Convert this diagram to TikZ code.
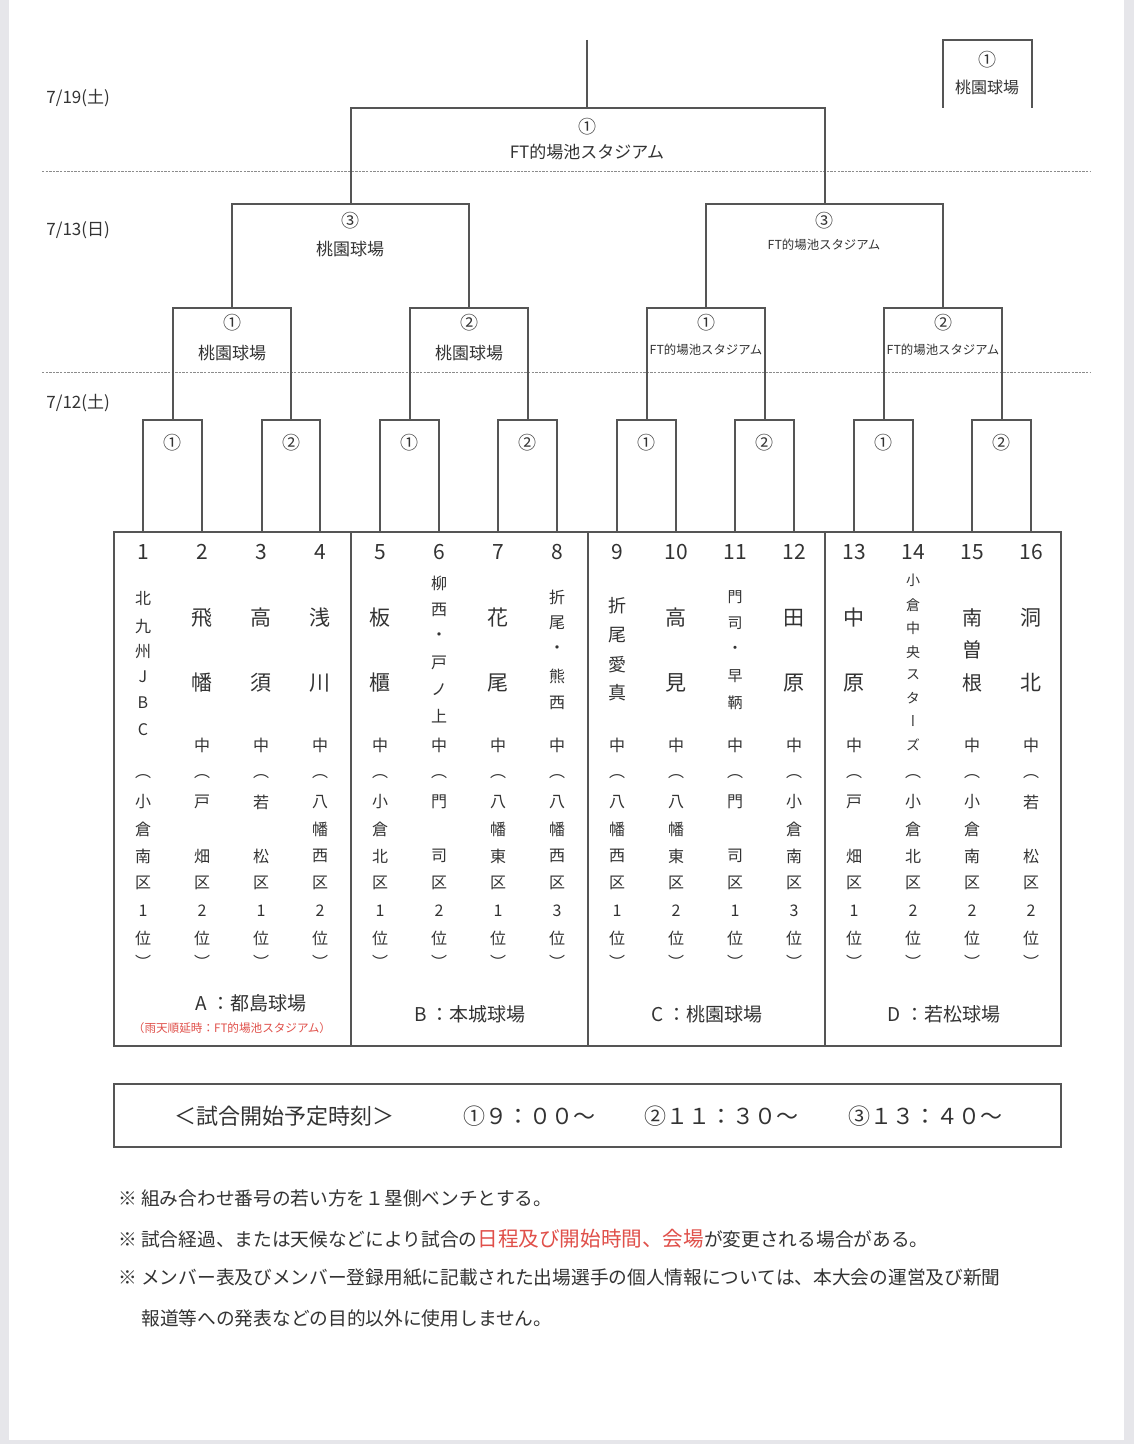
\documentclass[tikz,border=0pt]{standalone}
\usepackage{fontspec}
\setmainfont{Noto Sans CJK JP}
\newfontfamily\jpv[RawFeature=+vert]{Noto Sans CJK JP}
\newcommand\fsz[1]{\fontsize{#1}{#1}\selectfont}
\definecolor{ink}{HTML}{333333}
\definecolor{ln}{HTML}{555555}
\definecolor{dsh}{HTML}{8C8C8C}
\definecolor{rd}{HTML}{E0504A}
\definecolor{pg}{HTML}{E6E6EA}
\newcommand\upcol[3]{\foreach \ch/\yy [count=\k] in {#3} {\node[#2] (u#1-\k) at (#1,\yy) {\ch};}}
\newcommand\locol[5]{\foreach \ch/\yy [count=\k] in {︵/777,#2/802,#3/829,#4/856,区/883,#5/911,位/938,︶/962} {\node[lo] (l#1-\k) at (#1,\yy) {\ch};}}
\begin{document}
\begin{tikzpicture}[x=0.5pt,y=-0.5pt,
  br/.style={draw=ln,line width=0.75pt},
  dl/.style={draw=dsh,line width=0.5pt,dash pattern=on 1.2pt off 0.6pt},
  txt/.style={text=ink,inner sep=0pt},
  lbl/.style={txt,font=\fsz{8.5pt}},
  circ/.style={txt,font=\fsz{9pt}},
  sml/.style={txt,font=\fsz{6.2pt}},
  num/.style={txt,font=\fsz{10.5pt}},
  big/.style={txt,font=\fsz{10.5pt}},
  sm/.style={txt,font=\jpv\fsz{8pt}},
  md/.style={txt,font=\jpv\fsz{9pt}},
  xs/.style={txt,font=\jpv\fsz{7.5pt}},
  xxs/.style={txt,font=\jpv\fsz{7pt}},
  mb/.style={txt,font=\fsz{10pt}},
  lo/.style={txt,font=\fsz{8pt}},
  venue/.style={txt,font=\fsz{9.5pt}},
  tm/.style={txt,font=\fsz{11pt}},
  note/.style={txt,font=\fsz{9.35pt},anchor=west}]
\useasboundingbox (0,0) rectangle (1134,1444);
\fill[pg] (0,0) rectangle (1134,1444);
\fill[white] (9,0) rectangle (1124,1440);
% dashed date separators
\draw[dl] (42,172) coordinate (d1a) -- (1090,172) coordinate (d1b);
\draw[dl] (42,372) coordinate (d2a) -- (1090,372) coordinate (d2b);
% dates
\node[lbl,anchor=west] (date1) at (46,98) {7/19(土)};
\node[lbl,anchor=west] (date2) at (46,230) {7/13(日)};
\node[lbl,anchor=west] (date3) at (46,403) {7/12(土)};
% final
\draw[br] (587,40) -- (587,108);
\draw[br] (351,204) |- (825,108) -- (825,204);
\node[circ] (f1) at (587,127) {①};
\node[lbl] (f2) at (587,152) {FT的場池スタジアム};
% champion box
\draw[br] (943,108) |- (1032,40) -- (1032,108);
\node[circ] (w1) at (987,60) {①};
\node[txt,font=\fsz{8pt}] (w2) at (987,87) {桃園球場};
% semifinals
\draw[br] (232,308) |- (469,204) -- (469,308);
\draw[br] (706,308) |- (943,204) -- (943,308);
\node[circ] (s1) at (350,221) {③};
\node[lbl] (s1v) at (350,249) {桃園球場};
\node[circ] (s2) at (824,221) {③};
\node[sml] (s2v) at (824,245) {FT的場池スタジアム};
% quarterfinals
\foreach \a/\b in {173/291,410/528,647/765,884/1002}
  \draw[br] (\a,420) |- (\b,308) -- (\b,420);
\node[circ] (q1) at (232,323) {①};
\node[lbl] (q1v) at (232,353) {桃園球場};
\node[circ] (q2) at (469,323) {②};
\node[lbl] (q2v) at (469,353) {桃園球場};
\node[circ] (q3) at (706,323) {①};
\node[sml] (q3v) at (706,350) {FT的場池スタジアム};
\node[circ] (q4) at (943,323) {②};
\node[sml] (q4v) at (943,350) {FT的場池スタジアム};
% first round
\foreach \a/\b/\m [count=\i] in {143/202/①,262/320/②,380/439/①,498/557/②,617/676/①,735/794/②,854/913/①,972/1031/②}{
  \draw[br] (\a,532) |- (\b,420) -- (\b,532);
  \node[circ] (r\i) at ({(\a+\b)/2},443) {\m};
}
% main table
\draw[br] (114,532) rectangle (1061,1046);
\foreach \x in {351,588,825} \draw[br] (\x,532) -- (\x,1046);
% numbers
\foreach \x [count=\i] in {143,202,261,320,380,439,498,557,617,676,735,794,854,913,972,1031}
  \node[num] (n\i) at (\x,552) {\i};
% team names (upper)
\upcol{143}{sm}{北/598,九/627,州/652,J/677,B/703,C/730}
\upcol{202}{big}{飛/618,幡/683}
\upcol{261}{big}{高/618,須/683}
\upcol{320}{big}{浅/618,川/683}
\upcol{380}{big}{板/618,櫃/683}
\upcol{439}{sm}{柳/583,西/610,・/637,戸/663,ノ/690,上/716}
\upcol{498}{big}{花/618,尾/683}
\upcol{557}{sm}{折/597,尾/623,・/650,熊/676,西/703}
\upcol{617}{md}{折/606,尾/635,愛/665,真/693}
\upcol{676}{big}{高/618,見/683}
\upcol{735}{xs}{門/597,司/623,・/650,早/676,鞆/703}
\upcol{794}{big}{田/618,原/683}
\upcol{854}{big}{中/618,原/683}
\upcol{913}{xxs}{小/580,倉/605,中/628,央/652,ス/675,タ/698,ー/721,ズ/745}
\upcol{972}{mb}{南/618,曽/650,根/683}
\upcol{1031}{big}{洞/618,北/683}
\foreach \x [count=\i] in {202,261,320,380,439,498,557,617,676,735,794,854,972,1031}
  \node[lo] (c\i) at (\x,745) {中};
% lower (district rankings)
\locol{143}{小}{倉}{南}{1}
\locol{202}{戸}{}{畑}{2}
\locol{261}{若}{}{松}{1}
\locol{320}{八}{幡}{西}{2}
\locol{380}{小}{倉}{北}{1}
\locol{439}{門}{}{司}{2}
\locol{498}{八}{幡}{東}{1}
\locol{557}{八}{幡}{西}{3}
\locol{617}{八}{幡}{西}{1}
\locol{676}{八}{幡}{東}{2}
\locol{735}{門}{}{司}{1}
\locol{794}{小}{倉}{南}{3}
\locol{854}{戸}{}{畑}{1}
\locol{913}{小}{倉}{北}{2}
\locol{972}{小}{倉}{南}{2}
\locol{1031}{若}{}{松}{2}
% venues
\node[venue] (vA) at (251,1003) {A ：都島球場};
\node[txt,font=\fsz{5.8pt},text=rd] (vAr) at (232,1028) {（雨天順延時：FT的場池スタジアム）};
\node[venue] (vB) at (470,1014) {B ：本城球場};
\node[venue] (vC) at (707,1014) {C ：桃園球場};
\node[venue] (vD) at (944,1014) {D ：若松球場};
% time box
\draw[br] (114,1084) rectangle (1061,1147);
\node[tm] (t0) at (284,1116) {＜試合開始予定時刻＞};
\node[tm] (t1) at (529,1116) {①９：００～};
\node[tm] (t2) at (721,1116) {②１１：３０～};
\node[tm] (t3) at (925,1116) {③１３：４０～};
% notes
\node[note] (n1) at (118,1198) {※ 組み合わせ番号の若い方を１塁側ベンチとする。};
\node[note] (n2) at (118,1239) {※ 試合経過、または天候などにより試合の{\color{rd}\fsz{10.3pt}日程及び開始時間、会場}が変更される場合がある。};
\node[note] (n3) at (118,1278) {※ メンバー表及びメンバー登録用紙に記載された出場選手の個人情報については、本大会の運営及び新聞};
\node[note] (n4) at (141,1318) {報道等への発表などの目的以外に使用しません。};
\end{tikzpicture}
\end{document}
